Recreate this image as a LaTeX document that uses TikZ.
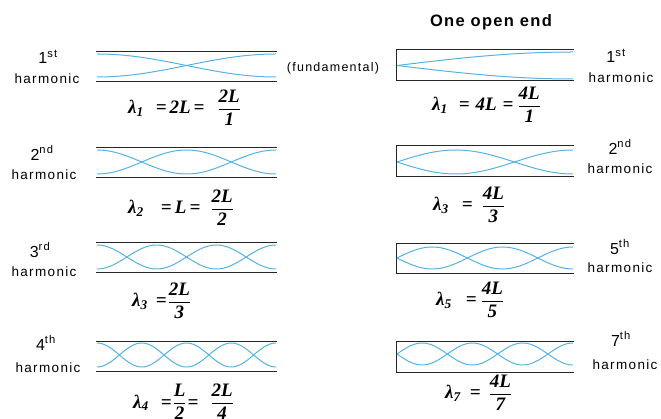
\documentclass[tikz,border=0pt]{standalone}
\usepackage{fontspec}
\usepackage{amsmath}
\setmainfont{Liberation Sans}
\newfontfamily\fml{Liberation Serif}
\newfontfamily\labfont[LetterSpace=10]{Liberation Sans}
\newfontfamily\ttlfont[LetterSpace=8]{Liberation Sans}
\definecolor{wavecol}{RGB}{86,178,228}
\newcommand\fr[2]{$\genfrac{}{}{1pt}{0}{\hbox{#1}}{\hbox{#2}}$}
\newcommand\lam[1]{λ\textsubscript{#1}}
\newcommand\hs[1]{\hspace*{#1pt}}
\newcommand\lwave[3]{%
  \draw[wv] plot[domain=0:1,samples=120] ({97+179*\x},{#1+#3*cos(180*#2*\x)});
  \draw[wv] plot[domain=0:1,samples=120] ({97+179*\x},{#1-#3*cos(180*#2*\x)});}
\newcommand\rwave[3]{%
  \draw[wv] plot[domain=0:1,samples=120] ({397+176*\x},{#1+#3*sin(90*#2*\x)});
  \draw[wv] plot[domain=0:1,samples=120] ({397+176*\x},{#1-#3*sin(90*#2*\x)});}
\newcommand\ltube[2]{\draw[tube] (96,#1) -- (277,#1); \draw[tube] (96,#2) -- (277,#2);}
\newcommand\rtube[2]{\draw[tube] (574,#1) -- (396,#1) -- (396,#2) -- (574,#2);}
\tikzset{
  tube/.style={draw=black!85, line width=0.9pt},
  wv/.style={draw=wavecol, line width=1pt},
  lab/.style={font=\labfont\fontsize{13.5}{14}\selectfont, inner sep=0pt},
  ord/.style={font=\labfont\fontsize{16}{17}\selectfont, inner sep=0pt},
  fm/.style={font=\fml\fontsize{19}{21}\selectfont\bfseries\itshape, inner sep=0pt, anchor=base west},
}
\begin{document}
\begin{tikzpicture}[x=1pt,y=-1pt]
\useasboundingbox (0,0) rectangle (661,419);
% title
\node[font=\ttlfont\bfseries\fontsize{16.5}{18}\selectfont, inner sep=0pt] (title) at (491,22) {One open end};
\node[font=\labfont\fontsize{12.5}{13}\selectfont, inner sep=0pt] (fund) at (333,68) {(fundamental)};
% tubes
\ltube{51}{81} \ltube{147}{177} \ltube{242}{272} \ltube{341}{371}
\rtube{49}{80} \rtube{145}{176} \rtube{243}{273} \rtube{341}{372}
% waves
\lwave{65.5}{1}{11.5} \lwave{162}{2}{12} \lwave{257}{3}{12} \lwave{355}{4}{12}
\rwave{65.5}{1}{13.5} \rwave{162}{3}{12} \rwave{258}{5}{11} \rwave{354}{7}{11}
% left labels
\node[ord] (l1o) at (48,57) {1\textsuperscript{st}};
\node[lab] (l1h) at (47,79) {harmonic};
\node[ord] (l2o) at (42,153) {2\textsuperscript{nd}};
\node[lab] (l2h) at (44,175) {harmonic};
\node[ord] (l3o) at (40,250) {3\textsuperscript{rd}};
\node[lab] (l3h) at (44,272) {harmonic};
\node[ord] (l4o) at (46,343) {4\textsuperscript{th}};
\node[lab] (l4h) at (48,368) {harmonic};
% right labels
\node[ord] (r1o) at (616,56) {1\textsuperscript{st}};
\node[lab] (r1h) at (621,78) {harmonic};
\node[ord] (r2o) at (620,147) {2\textsuperscript{nd}};
\node[lab] (r2h) at (620,169) {harmonic};
\node[ord] (r3o) at (620,247) {5\textsuperscript{th}};
\node[lab] (r3h) at (620,268) {harmonic};
\node[ord] (r4o) at (621,339) {7\textsuperscript{th}};
\node[lab] (r4h) at (625,365) {harmonic};
% formulas
\node[fm] (f1) at (128,114) {\lam{1}\hs{12}=\hs{3}2L\hs{3}=\hs{13}\fr{2L}{1}};
\node[fm] (g1) at (432,111) {\lam{1}\hs{11}=\hs{6}4L\hs{6}=\hs{4}\fr{4L}{1}};
\node[fm] (f2) at (128,214) {\lam{2}\hs{17}=\,L\,=\hs{10}\fr{2L}{2}};
\node[fm] (g2) at (433,211) {\lam{3}\hs{13}=\hs{9}\fr{4L}{3}};
\node[fm] (f3) at (132,307) {\lam{3}\hs{8}=\hs{1}\fr{2L}{3}};
\node[fm] (g3) at (436,306) {\lam{5}\hs{14}=\hs{4}\fr{4L}{5}};
\node[fm] (f4) at (133,408) {\lam{4}\hs{12}=\hs{1}\fr{L}{2}\hs{1}=\hs{12}\fr{2L}{4}};
\node[fm] (g4) at (445,399) {\lam{7}\hs{9}=\hs{8}\fr{4L}{7}};
\end{tikzpicture}
\end{document}
